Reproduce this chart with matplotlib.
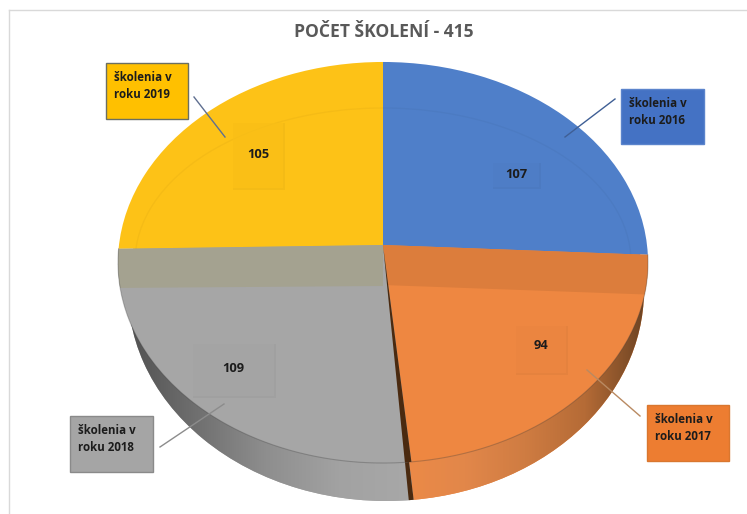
import numpy as np
import matplotlib
matplotlib.use('Agg')
import matplotlib.pyplot as plt
import matplotlib.transforms as mtransforms
from matplotlib.colors import LinearSegmentedColormap
from matplotlib.patches import Wedge, Rectangle, Ellipse

plt.rcParams['font.family'] = ['Open Sans', 'DejaVu Sans']

categories = ['školenia v\nroku 2016', 'školenia v\nroku 2017', 'školenia v\nroku 2018', 'školenia v\nroku 2019']
values = [107, 94, 109, 105]
title = 'POČET ŠKOLENÍ - 415'

face_colors = ['#4F7FC9', '#EE8741', '#A6A6A6', '#FDC217']
box_colors = ['#4472C4', '#ED7D31', '#A5A5A5', '#FFC000']
box_edges = ['#5B84CC', '#D9772F', '#8A8A8A', '#6B6F62']
line_colors = ['#3F5F95', '#B98A62', '#8C8C8C', '#5F6F90']


# tilted disc: unit circle goes to the perspective ellipse, in pixel coords
class Persp(mtransforms.Transform):
    input_dims = 2
    output_dims = 2
    is_separable = False
    has_inverse = False

    def __init__(self, cx, cy, rx, ry, k=0.0873):
        super().__init__()
        self.cx, self.cy, self.rx, self.ry, self.k = cx, cy, rx, ry, k

    def transform_non_affine(self, xy):
        xy = np.asarray(xy, dtype=float)
        w = 1 + self.k * xy[:, 1]
        return np.column_stack([self.cx + self.rx * xy[:, 0] / w,
                                self.cy - self.ry * xy[:, 1] / w])


fig = plt.figure(figsize=(7.47, 5.14), dpi=100)
ax = fig.add_axes([0, 0, 1, 1])

top_persp = Persp(383, 245, 264, 199)
base_persp = Persp(386, 272, 257, 209)
top_tr = top_persp + ax.transData
base_tr = base_persp + ax.transData

# side wall
base_wedges, _ = ax.pie(values, colors=face_colors, startangle=90, counterclock=False)
for w in base_wedges:
    w.set_transform(base_tr)
    w.set_zorder(1)
    w.set_clip_on(False)

orange_cmap = LinearSegmentedColormap.from_list('o', ['#EC8A47', '#E2874A', '#CF7C42', '#B56B36', '#6E4423'])
gray_cmap = LinearSegmentedColormap.from_list('g', ['#4E4E4E', '#6E6E6E', '#8E8E8E', '#A2A2A2', '#A8A8A8'])
grad = np.linspace(0, 1, 256).reshape(1, -1)
im = ax.imshow(grad, cmap=orange_cmap, extent=(405, 645, 520, 250), aspect='auto', zorder=1.5)
im.set_clip_path(base_wedges[1])
im = ax.imshow(grad, cmap=gray_cmap, extent=(120, 412, 520, 250), aspect='auto', zorder=1.5)
im.set_clip_path(base_wedges[2])

# dark cut between the orange and the gray slice
cut = 90 - 360 * (values[0] + values[1]) / sum(values)
ax.add_patch(Wedge((0, 0), 1, cut - 1.0, cut, transform=base_tr, fc='#4A2A10', ec='none', zorder=2, clip_on=False))

# top face
wedges, _ = ax.pie(values, colors=face_colors, startangle=90, counterclock=False)
for w in wedges:
    w.set_transform(top_tr)
    w.set_zorder(3)
    w.set_clip_on(False)
ax.add_patch(Wedge((0, 0), 1, cut - 1.3, cut, transform=top_tr, fc='#4A2A10', ec='none', zorder=3.5, clip_on=False))

# darker band across the middle of the face
band = ax.fill([110, 383, 383, 110], [240, 240, 286, 288], color='#A4A290', ec='none', zorder=3.2)[0]
band.set_clip_path(wedges[2])
band = ax.fill([383, 660, 660, 383], [240, 240, 295, 285], color='#DC7D3C', ec='none', zorder=3.2)[0]
band.set_clip_path(wedges[1])

# faint inner ring on the upper slices
for i in [0, 3]:
    ring = Ellipse((383, 262), 496, 308, fc='none', ec='black', alpha=0.03, lw=1, zorder=3.3)
    ax.add_patch(ring)
    ring.set_clip_path(wedges[i])

# rim line at the front of the face
start = 90 - 360 * values[0] / sum(values)
end = 90 - 360 * sum(values[:3]) / sum(values)
th = np.radians(np.linspace(start, end, 200))
rim = top_persp.transform_non_affine(np.column_stack([np.cos(th), np.sin(th)]))
ax.plot(rim[:, 0], rim[:, 1], color='#3A3A3A', alpha=0.3, lw=0.8, zorder=3.4)

# value boxes
value_boxes = [(493, 163, 46, 24), (516, 326, 50, 47), (193, 344, 81, 52), (233, 123, 50, 65)]
for i, (x, y, bw, bh) in enumerate(value_boxes):
    ax.add_patch(Rectangle((x, y), bw + 1.5, bh + 1.5, fc='black', alpha=0.035, ec='none', zorder=4))
    ax.add_patch(Rectangle((x, y), bw, bh, fc=face_colors[i], ec='none', alpha=0.7, zorder=4.1))
    ax.text(x + bw / 2, y + bh / 2 + (-4 if i == 1 else -1), str(values[i]), ha='center', va='center',
            fontsize=9.3, fontweight='bold', color='#1C1C1C', zorder=5)

# leader lines and category boxes
leaders = [((615, 99), (565, 137)), ((640, 416), (587, 370)), ((160, 447), (224, 404)), ((194, 97), (225, 137))]
label_boxes = [(621, 89, 83, 55), (647, 405, 82, 56), (70, 416, 83, 56), (106, 63, 82, 56)]
for i in range(len(categories)):
    p, q = leaders[i]
    ax.plot([p[0], q[0]], [p[1], q[1]], color=line_colors[i], lw=1, zorder=4.5)
    x, y, bw, bh = label_boxes[i]
    ax.add_patch(Rectangle((x, y), bw, bh, fc=box_colors[i], ec=box_edges[i], lw=1, zorder=5))
    ax.text(x + 8, y + 23, categories[i], ha='left', va='center', fontsize=8.3, fontweight='bold',
            color='#1C1C1C', linespacing=1.35, zorder=6)

# chart frame
ax.plot([8.5, 8.5], [514, 9.5], color='#D9D9D9', lw=1, zorder=0)
ax.plot([8.5, 747], [9.5, 9.5], color='#D9D9D9', lw=1, zorder=0)

ax.text(384, 32, title, ha='center', va='center', fontsize=12.6, fontweight='bold', color='#595959')

ax.set_aspect('auto')
ax.set_xlim(0, 747)
ax.set_ylim(514, 0)
ax.axis('off')
fig.savefig('out.png', dpi=100)
